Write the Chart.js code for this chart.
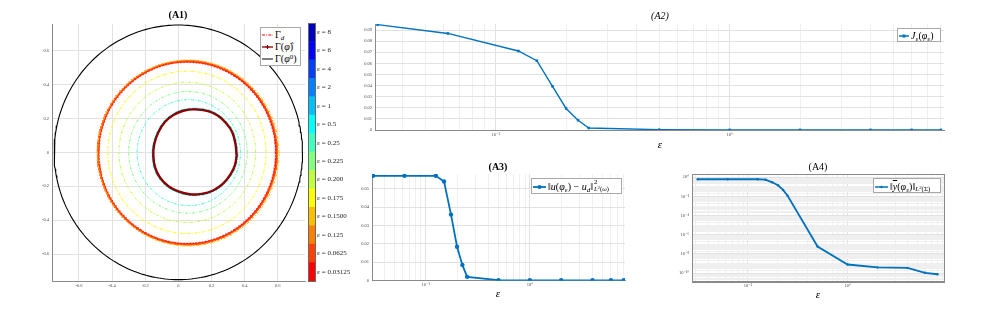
<!DOCTYPE html>
<html><head><meta charset="utf-8">
<script src="https://cdn.jsdelivr.net/npm/chart.js@4.4.1/dist/chart.umd.min.js"></script>
<style>
html,body{margin:0;padding:0;background:#fff;}
#wrap{position:relative;width:997px;height:316px;overflow:hidden;background:#fff;}
canvas.layer{position:absolute;left:0;top:0;}
.t{position:absolute;font-family:'Liberation Serif','DejaVu Serif',serif;color:#000;white-space:nowrap;line-height:1;transform:translate(-50%,-50%);}
.leg{position:absolute;background:#fff;border:1px solid #a8a8a8;box-sizing:border-box;font-family:'Liberation Serif','DejaVu Serif',serif;font-size:10px;color:#000;}
.row{position:absolute;left:0;display:flex;align-items:center;white-space:nowrap;line-height:1;}
.row svg{flex:none;margin-right:2px;}
sub,sup{font-size:70%;line-height:0;}
sub{vertical-align:-0.25em;}
sup{vertical-align:0.5em;}
.ss{display:inline-block;position:relative;width:19px;height:10px;vertical-align:middle;margin-left:1px;}
.ss .a{position:absolute;left:0;top:-3px;font-size:7px;line-height:1;}
.ss .b{position:absolute;left:0;top:4px;font-size:6.5px;line-height:1;white-space:nowrap;}
.ss .b sup{font-size:75%;vertical-align:0.45em;}
</style></head>
<body>
<div id="wrap">
<canvas class="layer" id="c1" width="997" height="316"></canvas>
<canvas class="layer" id="cb" width="997" height="316"></canvas>
<canvas class="layer" id="c2" width="997" height="316"></canvas>
<canvas class="layer" id="c3" width="997" height="316"></canvas>
<canvas class="layer" id="c4" width="997" height="316"></canvas>

<div class="t" style="left:178px;top:15px;font-size:10px;font-weight:bold;">(A1)</div>
<div class="t" style="left:660px;top:16px;font-size:10px;font-style:italic;">(A2)</div>
<div class="t" style="left:498px;top:167px;font-size:10px;font-weight:bold;">(A3)</div>
<div class="t" style="left:818px;top:167px;font-size:10px;">(A4)</div>
<div class="t" style="left:660px;top:144px;font-size:11px;font-style:italic;">ε</div>
<div class="t" style="left:498px;top:293px;font-size:11px;font-style:italic;">ε</div>
<div class="t" style="left:818px;top:294px;font-size:11px;font-style:italic;">ε</div>

<div class="leg" style="left:260px;top:27px;width:41px;height:39px;">
  <div class="row" style="top:2px;left:1px;height:10px;"><svg width="11" height="6"><line x1="0" y1="3" x2="11" y2="3" stroke="#ff0000" stroke-width="1" stroke-dasharray="3,1.2,1,1.2"/></svg><span>Γ<sub><i>d</i></sub></span></div>
  <div class="row" style="top:13px;left:1px;height:11px;"><svg width="11" height="6"><line x1="0" y1="3" x2="11" y2="3" stroke="#8b0000" stroke-width="1.3"/><line x1="5.5" y1="1" x2="5.5" y2="5" stroke="#8b0000" stroke-width="1"/><line x1="3.5" y1="3" x2="7.5" y2="3" stroke="#8b0000" stroke-width="1"/></svg><span>Γ(<i>φ̂</i>)</span></div>
  <div class="row" style="top:25px;left:1px;height:11px;"><svg width="11" height="6"><line x1="0" y1="3" x2="11" y2="3" stroke="#000" stroke-width="1"/></svg><span>Γ(<i>φ</i><sup>0</sup>)</span></div>
</div>

<div class="leg" style="left:897px;top:28px;width:44px;height:14px;">
  <div class="row" style="top:1px;left:1px;height:11px;"><svg width="10" height="6"><line x1="0" y1="3" x2="10" y2="3" stroke="#0072bd" stroke-width="1.5"/><rect x="3.5" y="1.5" width="3" height="3" fill="#0072bd"/></svg><span><i>J</i><sub>ε</sub>(<i>φ</i><sub>ε</sub>)</span></div>
</div>

<div class="leg" style="left:531px;top:178px;width:91px;height:16px;">
  <div class="row" style="top:2px;left:1px;height:12px;"><svg width="13" height="6"><line x1="0" y1="3" x2="13" y2="3" stroke="#0072bd" stroke-width="1.8"/><circle cx="6.5" cy="3" r="2" fill="#0072bd"/></svg><span>‖<i>u</i>(<i>φ</i><sub>ε</sub>) − <i>u</i><sub><i>d</i></sub>‖<span class="ss"><span class="a">2</span><span class="b"><i>L</i><sup>2</sup>(<i>ω</i>)</span></span></span></div>
</div>

<div class="leg" style="left:873px;top:178px;width:68px;height:15px;">
  <div class="row" style="top:2px;left:1px;height:11px;"><svg width="13" height="6"><line x1="0" y1="3" x2="13" y2="3" stroke="#0072bd" stroke-width="1.5"/><circle cx="6.5" cy="3" r="1.2" fill="#0072bd"/></svg><span>‖<i style="text-decoration:overline">y</i>(<i>φ</i><sub>ε</sub>)‖<sub><i>L</i><sup>2</sup>(Σ)</sub></span></div>
</div>
</div>

<script>
// ================= DATA =================
// (A1) contour levels, colour bar (top to bottom)
const epsLevels  = [8, 6, 4, 2, 1, 0.5, 0.25, 0.225, 0.2, 0.175, 0.15, 0.125, 0.0625, 0.03125];
const epsLabels  = ['ε = 8','ε = 6','ε = 4','ε = 2','ε = 1','ε = 0.5','ε = 0.25','ε = 0.225','ε = 0.200','ε = 0.175','ε = 0.1500','ε = 0.125','ε = 0.0625','ε = 0.03125'];
const levelColors = ['#0000bf','#0000ff','#0040ff','#0080ff','#00bfff','#00ffff','#40ffbf','#80ff80','#bfff40','#ffff00','#ffbf00','#ff8000','#ff4000','#ff0000'];
// large-ε levels follow the recovered shape (scale about its centre); small-ε levels are near-circles
const levelShapeScale = [1.0, 1.0, 1.0, 1.004, 1.012, 1.03, null, null, null, null, null, null, null, null];
const levelCx = [null, null, null, null, null, null, 0.063, 0.058, 0.054, 0.052, 0.060, 0.056, 0.055, 0.054];
const levelCy = [null, null, null, null, null, null, -0.002, 0.0, 0.0, 0.0, -0.004, -0.003, -0.003, -0.003];
const levelR  = [null, null, null, null, null, null, 0.312, 0.358, 0.413, 0.478, 0.548, 0.543, 0.540, 0.538];
// recovered shape Γ(φ̂) (and target Γ_d)
const shapeX = [0.352, 0.345, 0.325, 0.29, 0.24, 0.18, 0.10, 0.03, -0.03, -0.08, -0.12, -0.145, -0.151, -0.14, -0.11, -0.06, 0.0, 0.07, 0.14, 0.21, 0.27, 0.315, 0.342];
const shapeY = [-0.02, 0.05, 0.12, 0.17, 0.215, 0.243, 0.253, 0.245, 0.22, 0.18, 0.12, 0.05, -0.02, -0.09, -0.15, -0.20, -0.23, -0.247, -0.245, -0.225, -0.185, -0.13, -0.075];
const shapeCentre = [0.1, 0.0];
// initial guess Γ(φ^0): circle
const phi0Centre = [0.0, 0.0];
const phi0Radius = 0.75;
const a1Ticks = [-0.6, -0.4, -0.2, 0, 0.2, 0.4, 0.6];
const a1TickLabels = ['-0.6', '-0.4', '-0.2', '0', '0.2', '0.4', '0.6'];

// (A2)-(A4) series
const epsVals = [0.03125, 0.0625, 0.125, 0.15, 0.175, 0.2, 0.225, 0.25, 0.5, 1, 2, 4, 6, 8];
const jVals   = [0.0949, 0.0870, 0.0712, 0.0624, 0.0394, 0.0194, 0.0088, 0.0018, 0.0003, 0.0001, 0.0001, 0.0001, 0.0001, 0.0001];
const uVals   = [0.0570, 0.0570, 0.0570, 0.0539, 0.0359, 0.0184, 0.0085, 0.0020, 0.0002, 0.0001, 0.0001, 0.0001, 0.0001, 0.0001];
const yVals   = [0.62, 0.62, 0.62, 0.56, 0.30, 0.147, 0.048, 0.012, 5.9e-8, 7.9e-10, 4.0e-10, 3.5e-10, 1.07e-10, 7.6e-11];

const a2YTicks = [0, 0.01, 0.02, 0.03, 0.04, 0.05, 0.06, 0.07, 0.08, 0.09];
const a2YTickLabels = ['0', '0.01', '0.02', '0.03', '0.04', '0.05', '0.06', '0.07', '0.08', '0.09'];
const a3YTicks = [0, 0.01, 0.02, 0.03, 0.04, 0.05];
const a3YTickLabels = ['0', '0.01', '0.02', '0.03', '0.04', '0.05'];
const logXTicks = [0.1, 1];
const logXTickLabels = ['10⁻¹', '10⁰'];
const a4YTicks = [1e-10, 1e-8, 1e-6, 1e-4, 1e-2, 1];
const a4YTickLabels = ['10⁻¹⁰', '10⁻⁸', '10⁻⁶', '10⁻⁴', '10⁻²', '10⁰'];

// ================= LAYOUT / STYLE =================
const W = 997, H = 316;
const BLUE = '#0072bd';
const AX = '#8a8a8a', GRID = '#e2e2e2', MINOR = '#efefef', TICKC = '#4a4a4a';
const tickFont = {family: "'Liberation Serif','DejaVu Serif',serif", size: 4.5};
const box1 = {left: 52, right: 305, top: 24, bottom: 281};
const boxCb = {left: 308, right: 315, top: 23, bottom: 281};
const box2 = {left: 375, right: 944, top: 24, bottom: 130};
const box3 = {left: 372, right: 625, top: 174, bottom: 280.5};
const box4 = {left: 692, right: 944, top: 174, bottom: 281.5};
const YW = 24, XH = 14;

function pad(b) { return {left: b.left - YW, right: W - b.right, top: b.top, bottom: H - b.bottom - XH}; }
const fitY = s => { s.width = YW; };
const fitX = s => { s.height = XH; };
const setTicks = vals => s => { s.ticks = vals.map(v => ({value: v})); };
const near = (a, b) => Math.abs(Math.log10(a) - Math.log10(b)) < 1e-6;
function logTicksIn(min, max) {
  const out = [];
  for (let e = Math.floor(Math.log10(min)); e <= Math.ceil(Math.log10(max)); e++) {
    for (let m = 1; m <= 9; m++) { const v = m * Math.pow(10, e); if (v >= min && v <= max) out.push(v); }
  }
  return out;
}
const labelFrom = (vals, labels) => (v) => { const i = vals.findIndex(t => near(t, v)); return i >= 0 ? labels[i] : ''; };
const gridCol = majors => ctx => (ctx.tick && majors.some(m => near(m, ctx.tick.value))) ? GRID : MINOR;
const boxPlugin = {id: 'boxp', afterDraw(c, a, o) { if (!o.on) return; const {left, top, right, bottom} = c.chartArea; const g = c.ctx; g.save(); g.strokeStyle = o.color; g.lineWidth = 1; g.strokeRect(Math.round(left) + 0.5, Math.round(top) + 0.5, Math.round(right - left), Math.round(bottom - top)); g.restore(); }};
Chart.register(boxPlugin);
const common = {responsive: false, animation: false, events: [], plugins: {legend: {display: false}, tooltip: {enabled: false}}};

// ================= (A1) =================
function shapePts(scale) {
  const pts = shapeX.map((x, i) => ({x: shapeCentre[0] + (x - shapeCentre[0]) * scale, y: shapeCentre[1] + (shapeY[i] - shapeCentre[1]) * scale}));
  pts.push(pts[0]);
  return pts;
}
function circlePts(cx, cy, r, n) {
  const pts = [];
  for (let k = 0; k <= n; k++) { const t = 2 * Math.PI * k / n; pts.push({x: cx + r * Math.cos(t), y: cy + r * Math.sin(t)}); }
  return pts;
}
const ds1 = [];
epsLevels.forEach((e, i) => {
  const isShape = levelShapeScale[i] !== null;
  const marked = (e === 0.0625 || e === 0.03125);
  ds1.push({
    data: isShape ? shapePts(levelShapeScale[i]) : circlePts(levelCx[i], levelCy[i], levelR[i], 180),
    showLine: true, borderColor: levelColors[i], backgroundColor: levelColors[i],
    borderWidth: marked ? 1.2 : 1, borderDash: marked ? [] : [3, 1.5, 1, 1.5], tension: isShape ? 0.4 : 0,
    pointRadius: marked ? 1.5 : 0, pointStyle: e === 0.03125 ? 'star' : 'crossRot', pointBorderWidth: 0.8,
    pointBorderColor: levelColors[i], pointBackgroundColor: levelColors[i],
    order: 10 + i
  });
});
ds1.push({data: shapePts(1.0), showLine: true, borderColor: '#ff0000', borderWidth: 1, borderDash: [3, 1.5, 1, 1.5], tension: 0.4, pointRadius: 0, order: 3});
ds1.push({data: shapePts(1.0), showLine: true, borderColor: '#8b0000', borderWidth: 2.4, tension: 0.4, pointRadius: 0, order: 2});
ds1.push({data: circlePts(phi0Centre[0], phi0Centre[1], phi0Radius, 240), showLine: true, borderColor: '#000', borderWidth: 1.1, pointRadius: 0, order: 1});

new Chart(document.getElementById('c1'), {
  type: 'scatter', data: {datasets: ds1},
  options: Object.assign({}, common, {
    layout: {padding: pad(box1)},
    scales: {
      x: {type: 'linear', min: -0.763, max: 0.765, afterBuildTicks: setTicks(a1Ticks), afterFit: fitX,
          ticks: {callback: (v, i) => a1TickLabels[i], font: tickFont, color: TICKC, padding: 2, maxRotation: 0, autoSkip: false},
          grid: {color: GRID, drawTicks: false}, border: {color: AX}},
      y: {type: 'linear', min: -0.758, max: 0.756, afterBuildTicks: setTicks(a1Ticks), afterFit: fitY,
          ticks: {callback: (v, i) => a1TickLabels[i], font: tickFont, color: TICKC, padding: 3, autoSkip: false},
          grid: {color: GRID, drawTicks: false}, border: {color: AX}}
    }
  })
});

// ================= colour bar =================
const cbSets = epsLevels.slice().reverse().map((e, k) => ({data: [1], backgroundColor: levelColors[epsLevels.length - 1 - k], borderWidth: 0, barPercentage: 1, categoryPercentage: 1}));
const cbLabelsBottomUp = epsLabels.slice().reverse();
new Chart(document.getElementById('cb'), {
  type: 'bar', data: {labels: [''], datasets: cbSets},
  options: Object.assign({}, common, {
    layout: {padding: {left: boxCb.left, right: W - boxCb.right - 60, top: boxCb.top, bottom: H - boxCb.bottom}},
    plugins: {legend: {display: false}, tooltip: {enabled: false}, boxp: {on: true, color: '#6a6a6a'}},
    scales: {
      x: {display: false, stacked: true},
      y: {stacked: true, position: 'right', min: 0, max: epsLevels.length,
          afterBuildTicks: s => { s.ticks = cbLabelsBottomUp.map((l, k) => ({value: k + 0.5})); },
          afterFit: s => { s.width = 60; },
          ticks: {callback: (v, i) => cbLabelsBottomUp[i], font: {family: "'Liberation Serif','DejaVu Serif',serif", size: 7}, color: '#222', padding: 2, autoSkip: false},
          grid: {display: false, drawTicks: false}, border: {display: false}}
    }
  })
});

// ================= (A2)-(A4) =================
function seriesChart(id, box, vals, xr, yScale, style, boxed) {
  const xMinor = logTicksIn(xr[0], xr[1]);
  return new Chart(document.getElementById(id), {
    type: 'scatter',
    data: {datasets: [{data: epsVals.map((e, i) => ({x: e, y: vals[i]})), showLine: true, borderColor: BLUE, backgroundColor: BLUE,
           borderWidth: style.lw, pointRadius: style.pr, pointStyle: style.ps, pointBorderWidth: 0}]},
    options: Object.assign({}, common, {
      layout: {padding: pad(box)},
      plugins: {legend: {display: false}, tooltip: {enabled: false}, boxp: {on: boxed, color: AX}},
      scales: {
        x: {type: 'logarithmic', min: xr[0], max: xr[1], afterBuildTicks: setTicks(xMinor), afterFit: fitX,
            ticks: {callback: labelFrom(logXTicks, logXTickLabels), font: tickFont, color: TICKC, padding: 2, maxRotation: 0, autoSkip: false},
            grid: {color: gridCol(logXTicks), drawTicks: false}, border: {color: AX}},
        y: yScale
      }
    })
  });
}
function linY(min, max, ticks, labels) {
  return {type: 'linear', min: min, max: max, afterBuildTicks: setTicks(ticks), afterFit: fitY,
          ticks: {callback: (v, i) => labels[i], font: tickFont, color: TICKC, padding: 3, autoSkip: false},
          grid: {color: GRID, drawTicks: false}, border: {color: AX}};
}
seriesChart('c2', box2, jVals, [0.0305, 8.25], linY(0, 0.0955, a2YTicks, a2YTickLabels), {lw: 1.4, pr: 1.8, ps: 'rect'}, false);
seriesChart('c3', box3, uVals, [0.0305, 8.2], linY(0, 0.058, a3YTicks, a3YTickLabels), {lw: 1.8, pr: 2.2, ps: 'circle'}, false);
const a4YRange = [1.33e-11, 2.2];
seriesChart('c4', box4, yVals, [0.0274, 9.3], {
  type: 'logarithmic', min: a4YRange[0], max: a4YRange[1], afterBuildTicks: setTicks(logTicksIn(a4YRange[0], a4YRange[1])), afterFit: fitY,
  ticks: {callback: labelFrom(a4YTicks, a4YTickLabels), font: tickFont, color: TICKC, padding: 3, autoSkip: false},
  grid: {color: gridCol(a4YTicks), drawTicks: false}, border: {color: AX}
}, {lw: 1.8, pr: 1.2, ps: 'circle'}, true);
</script>
</body></html>
